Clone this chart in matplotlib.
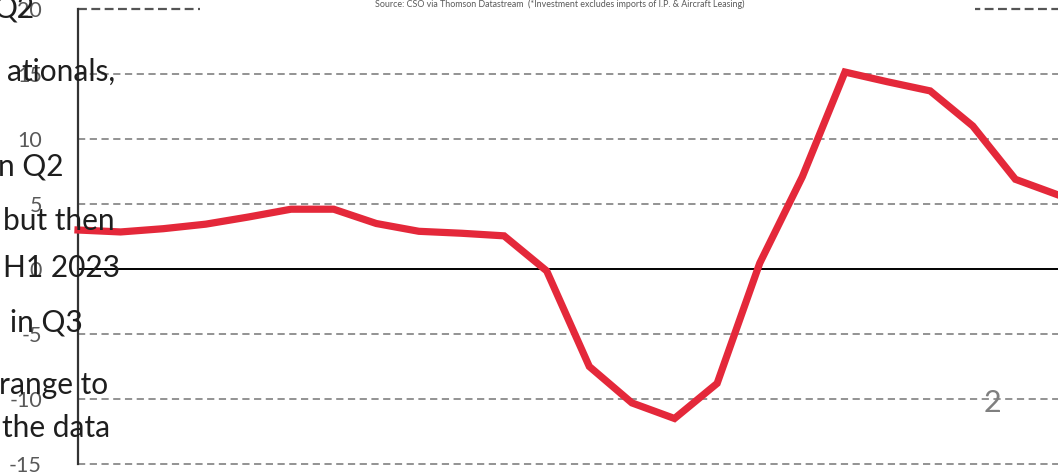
import matplotlib
matplotlib.use("Agg")
import matplotlib.pyplot as plt
from matplotlib.patches import Rectangle

# Data (quarterly % change)
periods = list(range(24))
values = [3.0, 2.85, 3.1, 3.45, 4.0, 4.6, 4.6, 3.5, 2.9, 2.75, 2.55, -0.15,
          -7.5, -10.3, -11.5, -8.8, 0.45, 7.1, 15.15, 14.4, 13.7, 11.0, 6.9, 5.7]
y_ticks = [-15, -10, -5, 0, 5, 10, 15, 20]
source_text = "Source: CSO via Thomson Datastream  (*Investment excludes imports of I.P. & Aircraft Leasing)"
side_lines = [("Q2", 20), ("ationals,", 15.2), ("n Q2", 7.9), ("but then", 3.7),
              ("H1 2023", 0.1), ("in Q3", -4.1), ("range to", -8.9), ("the data", -12.2)]
side_right_px = [35, 115, 63, 115, 120, 83, 108, 110]

W, H = 1058, 476
fig = plt.figure(figsize=(W / 100, H / 100), dpi=100)
ax = fig.add_axes([78 / W, (H - 464) / H, (W - 78) / W, (464 - 9) / H])
ax.set_xlim(0, 23)
ax.set_ylim(-15, 20)

grid_col = "#8a8a8a"
for yv in y_ticks:
    if yv == 0:
        ax.axhline(0, color="black", lw=1.4, zorder=2)
    elif yv == 20:
        ax.axhline(yv, color="#555555", lw=1.6, ls=(0, (4, 2)), zorder=2, clip_on=False)
    else:
        ax.axhline(yv, color=grid_col, lw=1.3, ls=(0, (4, 2.5)), zorder=2, clip_on=False)

ax.plot(periods, values, color="#E4283A", lw=5.2, solid_joinstyle="miter", zorder=4, clip_on=False)

for s in ["top", "right", "bottom"]:
    ax.spines[s].set_visible(False)
ax.spines["left"].set_color("#333333")
ax.spines["left"].set_linewidth(1.6)
ax.set_xticks([])
ax.set_yticks(y_ticks)
ax.set_yticklabels([str(t) for t in y_ticks], fontsize=15.5, color="#595959", family="Lato")
ax.tick_params(axis="y", length=0, pad=26)

# white box hiding top gridline behind source text
fig.patches.append(Rectangle((200 / W, (H - 20) / H), 775 / W, 20 / H,
                             transform=fig.transFigure, facecolor="white", edgecolor="none", zorder=5))
fig.text(560 / W, (H - 4) / H, source_text, ha="center", va="center", fontsize=6.4,
         color="#595959", family="Lato", zorder=6)

# clipped slide text on the left
for (txt, yv), xr in zip(side_lines, side_right_px):
    yp = ax.transData.transform((0, yv))[1] / H
    fig.text(xr / W, yp, txt, ha="right", va="center", fontsize=21.5, color="#1e1e1e",
             family="Lato", zorder=7)

# page number
fig.text(992 / W, (H - 403) / H, "2", ha="center", va="center", fontsize=22,
         color="#7f7f7f", family="Lato", zorder=7)

fig.savefig("out.png", dpi=100)
